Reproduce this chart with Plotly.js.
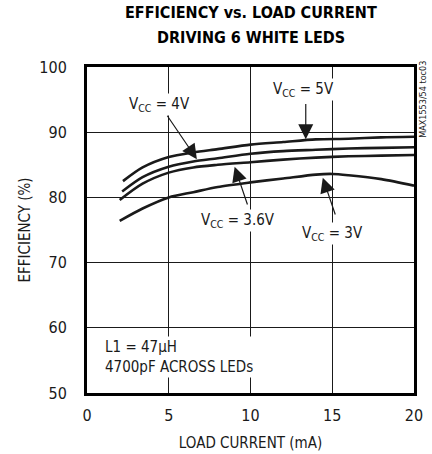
<!DOCTYPE html>
<html>
<head>
<meta charset="utf-8">
<script src="https://cdn.plot.ly/plotly-3.0.1.min.js"></script>
<style>
html,body{margin:0;padding:0;background:#fff;}
#chart{width:432px;height:454px;}
</style>
</head>
<body>
<div id="chart"></div>
<script>
// ---- data ----
const seriesNames = ["VCC = 5V", "VCC = 4V", "VCC = 3.6V", "VCC = 3V"];
const current5V  = [2.2, 3.4, 5, 6.5, 8, 10, 12, 14, 16, 18, 20];
const eff5V      = [82.5, 84.6, 86.2, 86.9, 87.4, 88.1, 88.5, 88.9, 89.0, 89.2, 89.3];
const current4V  = [2.15, 3.4, 5, 6.5, 8, 10, 12, 14, 16, 18, 20];
const eff4V      = [80.9, 83.1, 84.7, 85.5, 86.0, 86.7, 87.1, 87.3, 87.5, 87.6, 87.7];
const current36V = [2.0, 3.4, 5, 6.5, 8, 10, 12, 14, 16, 18, 20];
const eff36V     = [79.6, 82.1, 83.8, 84.6, 85.0, 85.4, 85.8, 86.1, 86.3, 86.4, 86.5];
const current3V  = [2.0, 3.4, 5, 6.5, 8, 10, 12, 14, 15, 16, 18, 20];
const eff3V      = [76.4, 78.3, 80.0, 80.8, 81.6, 82.3, 82.9, 83.5, 83.6, 83.4, 82.8, 81.8];
const xTicks = [0, 5, 10, 15, 20];
const yTicks = [50, 60, 70, 80, 90, 100];
const titleLines = ["EFFICIENCY vs. LOAD CURRENT", "DRIVING 6 WHITE LEDS"];

const FONT = "'DejaVu Sans Condensed', 'Liberation Sans Narrow', sans-serif";
const INK = "#1a1a1a";

function curve(x, y, name) {
  return {
    x: x, y: y, name: name, type: "scatter", mode: "lines",
    line: {color: INK, width: 2.6, shape: "spline", smoothing: 0.8},
    hoverinfo: "skip", showlegend: false
  };
}
const traces = [
  curve(current5V, eff5V, seriesNames[0]),
  curve(current4V, eff4V, seriesNames[1]),
  curve(current36V, eff36V, seriesNames[2]),
  curve(current3V, eff3V, seriesNames[3])
];

function label(text, x, y) {
  return {text: text, x: x, y: y, xref: "x", yref: "y", showarrow: false,
          xanchor: "center", yanchor: "middle",
          font: {family: FONT, size: 15, color: INK}, bgcolor: "#ffffff", borderpad: 1};
}
function arrow(x, y, ax, ay) {
  return {text: "", x: x, y: y, xref: "x", yref: "y", ax: ax, ay: ay,
          showarrow: true, arrowhead: 2, arrowsize: 2.5, arrowwidth: 1.2,
          arrowcolor: INK, standoff: 0, startstandoff: 0};
}
function titleLine(text, y) {
  return {text: "<b>" + text + "</b>", x: 0.5, y: y, xref: "paper", yref: "paper",
          xanchor: "center", yanchor: "middle", showarrow: false,
          font: {family: FONT, size: 16, color: "#000"}};
}

const annotations = [
  titleLine(titleLines[0], 1.167),
  titleLine(titleLines[1], 1.0905),
  label("V<sub>CC</sub> = 4V", 4.44, 94.3),
  label("V<sub>CC</sub> = 5V", 13.26, 96.5),
  label("V<sub>CC</sub> = 3.6V", 9.22, 76.46),
  label("V<sub>CC</sub> = 3V", 15.03, 74.5),
  arrow(6.72, 85.85, -30.6, -45),
  arrow(13.38, 88.92, 0, -36.7),
  arrow(9.03, 84.72, 13.3, 39.4),
  arrow(14.42, 83.03, 13, 38.4),
  {text: "L1 = 47\u03BCH<br>4700pF ACROSS LEDs", x: 0.95, y: 55.5, xref: "x", yref: "y",
   xanchor: "left", yanchor: "middle", align: "left", showarrow: false,
   font: {family: FONT, size: 15, color: INK}, bgcolor: "#ffffff", borderpad: 1},
  {text: "MAX1553/54 toc03", x: 1.027, y: 0.902, xref: "paper", yref: "paper",
   xanchor: "center", yanchor: "middle",
   textangle: -90, showarrow: false, font: {family: FONT, size: 9, color: INK}}
];

const layout = {
  width: 432, height: 454,
  margin: {l: 87, r: 18, t: 67, b: 61},
  paper_bgcolor: "#ffffff", plot_bgcolor: "#ffffff",
  xaxis: {
    range: [0, 20], tickvals: xTicks, ticktext: xTicks.map(String),
    showgrid: true, gridcolor: INK, gridwidth: 1,
    showline: true, linecolor: "#000", linewidth: 3, mirror: true,
    zeroline: false, ticks: "", ticklabelstandoff: 6,
    tickfont: {family: FONT, size: 16, color: INK},
    title: {text: "LOAD CURRENT (mA)", standoff: 14, font: {family: FONT, size: 15, color: INK}}
  },
  yaxis: {
    range: [50, 100], tickvals: yTicks, ticktext: yTicks.map(String),
    showgrid: true, gridcolor: INK, gridwidth: 1,
    showline: true, linecolor: "#000", linewidth: 3, mirror: true,
    zeroline: false, ticks: "", ticklabelstandoff: 14,
    tickfont: {family: FONT, size: 16, color: INK},
    title: {text: "EFFICIENCY (%)", standoff: 6, font: {family: FONT, size: 15, color: INK}}
  },
  annotations: annotations
};

Plotly.newPlot("chart", traces, layout, {staticPlot: true, displayModeBar: false});
</script>
</body>
</html>
